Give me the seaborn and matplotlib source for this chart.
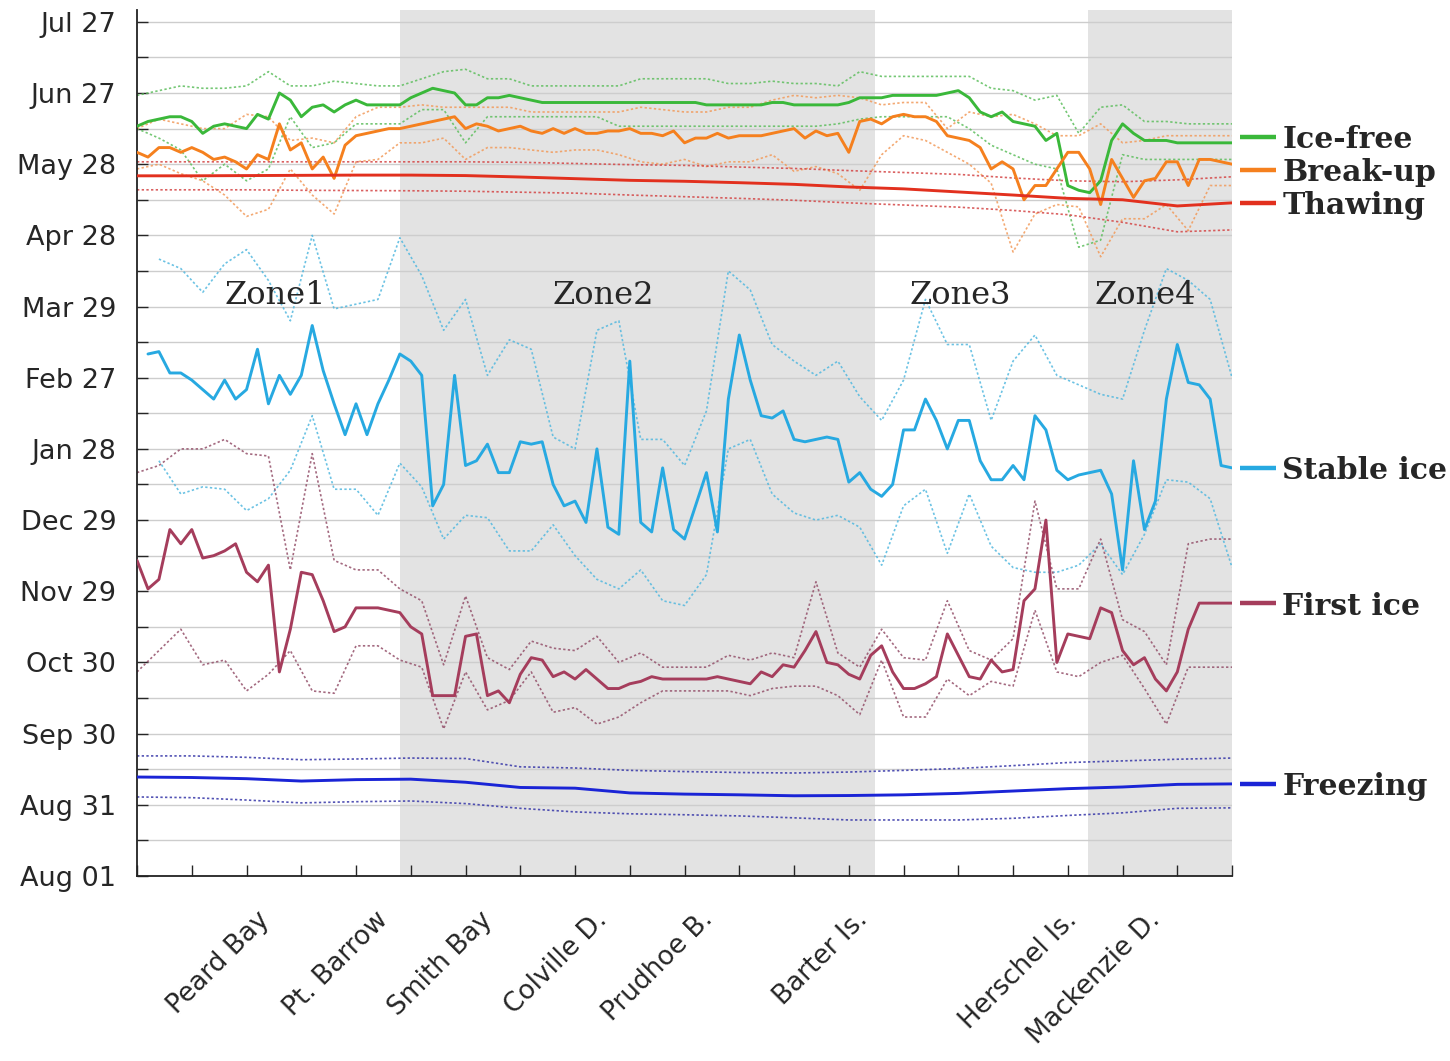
import numpy as np
import matplotlib
matplotlib.use("Agg")
import matplotlib.pyplot as plt
import matplotlib.transforms as mtransforms
import seaborn as sns

sns.set_style("ticks")
plt.rcParams['font.family'] = ['DejaVu Sans']

# site index along the coast (0 = west end, 200 = east end), three sampling steps
fine_x = np.arange(0, 201, 2)
mid_x = np.arange(0, 201, 4)
coarse_x = np.arange(0, 201, 10)
nan = np.nan

# all values are days since Aug 01
freezing = [41.7, 41.5, 41.0, 40.0, 40.6, 40.8, 39.5, 37.3, 37.0, 35.0, 34.5,
            34.2, 33.8, 33.9, 34.2, 34.8, 35.8, 36.8, 37.5, 38.6, 38.8]
freezing_hi = [50.6, 50.6, 50.0, 49.0, 49.3, 49.7, 49.5, 46.0, 45.5, 44.5, 44.0,
               43.6, 43.4, 43.8, 44.5, 45.3, 46.5, 47.8, 48.5, 49.2, 49.7]
freezing_lo = [33.3, 33.0, 32.0, 30.8, 31.3, 31.6, 30.5, 28.5, 27.0, 26.2, 25.8,
               25.3, 24.5, 23.6, 23.6, 23.6, 24.3, 25.5, 26.6, 28.5, 28.7]

thawing = [295.1, 295.1, 295.2, 295.3, 295.4, 295.4, 295.2, 294.6, 293.9, 293.2, 292.8,
           292.2, 291.5, 290.4, 289.6, 288.3, 287.0, 285.6, 285.0, 282.4, 283.7]
thawing_hi = [301.0, 301.0, 301.0, 301.0, 301.0, 301.0, 301.0, 300.8, 300.3, 299.8, 299.5,
              298.8, 298.2, 297.3, 296.5, 295.7, 294.2, 293.0, 292.6, 293.4, 294.7]
thawing_lo = [289.2, 289.2, 289.2, 289.0, 288.9, 288.8, 288.6, 288.2, 287.8, 287.0, 286.3,
              285.6, 284.8, 283.7, 282.8, 281.9, 280.5, 278.7, 275.5, 271.5, 272.3]

icefree = [316, 318, 319, 320, 320, 318, 313, 316, 317, 316,
           315, 321, 319, 330, 327, 320, 324, 325, 322, 325,
           327, 325, 325, 325, 325, 328, 330, 332, 331, 330,
           325, 325, 328, 328, 329, 328, 327, 326, 326, 326,
           326, 326, 326, 326, 326, 326, 326, 326, 326, 326,
           326, 326, 325, 325, 325, 325, 325, 325, 326, 326,
           325, 325, 325, 325, 325, 326, 328, 328, 328, 329,
           329, 329, 329, 329, 330, 331, 328, 322, 320, 322,
           318, 317, 316, 310, 313, 291, 289, 288, 293, 310,
           317, 313, 310, 310, 310, 309, 309, 309, 309, 309, 309]
icefree_hi = [329, 331, 333, 332, 332, 333, 339, 333, 333, 335,
              334, 333, 333, 336, 339, 340, 336, 336, 333, 333,
              333, 333, 333, 336, 336, 336, 336, 334, 334, 335,
              334, 334, 333, 339, 337, 337, 337, 337, 337, 332,
              331, 327, 329, 313, 324, 325, 318, 318, 317, 317, 317]
icefree_lo = [315, 311, 306, 293, 300, 293, 298, 320, 307, 309,
              317, 317, 317, 323, 323, 309, 320, 320, 320, 320,
              320, 320, 316, 316, 316, 316, 316, 316, 316, 316,
              316, 316, 317, 319, 320, 320, 320, 320, 315, 308,
              304, 300, 298, 265, 268, 304, 302, 302, 302, 302, 302]

breakup = [305, 303, 307, 307, 305, 307, 305, 302, 303, 301,
           298, 304, 302, 317, 306, 309, 298, 303, 294, 308,
           312, 313, 314, 315, 315, 316, 317, 318, 319, 320,
           315, 317, 316, 314, 315, 316, 314, 313, 315, 313,
           315, 313, 313, 314, 314, 315, 313, 313, 312, 314,
           309, 311, 311, 313, 311, 312, 312, 312, 313, 314,
           315, 311, 314, 312, 313, 305, 318, 319, 317, 320,
           321, 320, 320, 318, 312, 311, 310, 307, 298, 301,
           298, 285, 291, 291, 298, 305, 305, 298, 283, 302,
           294, 286, 293, 294, 301, 301, 291, 302, 302, 301, 300]
breakup_hi = [315, 319, 317, 315, 315, 321, 320, 310, 311, 309,
              320, 324, 324, 325, 324, 324, 324, 324, 322, 322,
              322, 322, 322, 324, 323, 322, 322, 324, 324, 327,
              329, 328, 329, 328, 325, 326, 326, 315, 322, 320,
              321, 317, 312, 312, 317, 309, 310, 312, 312, 312, 312]
breakup_lo = [298, 300, 296, 293, 287, 278, 281, 298, 287, 279,
              301, 302, 309, 309, 311, 302, 307, 307, 306, 305,
              306, 306, 304, 301, 300, 302, 299, 301, 301, 304,
              297, 299, 296, 289, 304, 312, 310, 305, 300, 292,
              263, 279, 283, 282, 261, 277, 277, 283, 272, 291, 291]

stable = [nan, 220, 221, 212, 212, 209, 205, 201, 209, 201,
          205, 222, 199, 211, 203, 211, 232, 213, 199, 186,
          199, 186, 199, 209, 220, 217, 211, 156, 165, 211,
          173, 175, 182, 170, 170, 183, 182, 183, 165, 156,
          158, 149, 180, 147, 144, 217, 149, 145, 172, 146,
          142, 156, 170, 145, 201, 228, 209, 194, 193, 196,
          184, 183, 184, 185, 184, 166, 170, 163, 160, 165,
          188, 188, 201, 192, 180, 192, 192, 175, 167, 167,
          173, 167, 194, 188, 171, 167, 169, 170, 171, 161,
          129, 175, 146, 158, 201, 224, 208, 207, 201, 173, 172]
stable_hi = [nan, 260, 256, 246, 258, 264, 251, 234, 270, 239,
             241, 243, 269, 253, 230, 243, 211, 226, 222, 185,
             180, 230, 234, 184, 184, 173, 196, 255, 247, 224,
             217, 211, 217, 202, 192, 209, 243, 224, 224, 192,
             217, 228, 211, 207, 203, 201, 230, 256, 251, 243, 210]
stable_lo = [nan, 175, 161, 164, 163, 154, 159, 171, 194, 163,
             163, 152, 174, 164, 142, 152, 151, 137, 137, 148,
             135, 125, 121, 129, 116, 114, 127, 180, 184, 161,
             153, 150, 152, 147, 131, 156, 163, 136, 161, 139,
             130, 128, 128, 131, 140, 127, 144, 167, 166, 159, 130]

firstice = [133, 121, 125, 146, 140, 146, 134, 135, 137, 140,
            128, 124, 131, 86, 104, 128, 127, 116, 103, 105,
            113, 113, 113, 112, 111, 105, 102, 76, 76, 76,
            101, 102, 76, 78, 73, 85, 92, 91, 84, 86,
            83, 87, 83, 79, 79, 81, 82, 84, 83, 83,
            83, 83, 83, 84, 83, 82, 81, 86, 84, 89,
            88, 95, 103, 90, 89, 85, 83, 93, 97, 86,
            79, 79, 81, 84, 102, 93, 84, 83, 91, 86,
            87, 116, 121, 150, 90, 102, 101, 100, 113, 111,
            95, 89, 92, 83, 78, 86, 104, 115, 115, 115, 115]
firstice_hi = [170, 173, 180, 180, 184, 178, 177, 129, 178, 133,
               129, 129, 121, 116, 89, 118, 92, 87, 99, 96,
               95, 101, 90, 94, 88, 88, 88, 93, 91, 94,
               92, 124, 94, 88, 104, 92, 91, 116, 95, 91,
               100, 158, 121, 121, 142, 108, 103, 89, 140, 142, 142]
firstice_lo = [86, 95, 104, 89, 91, 78, 85, 95, 78, 77,
               97, 97, 91, 88, 62, 86, 70, 74, 86, 69,
               71, 64, 67, 73, 78, 78, 78, 78, 76, 79,
               80, 80, 76, 68, 91, 67, 67, 83, 76, 82,
               80, 112, 86, 84, 90, 93, 79, 64, 88, 88, 88]

date_labels = ["Aug 01", "Aug 31", "Sep 30", "Oct 30", "Nov 29", "Dec 29", "Jan 28",
               "Feb 27", "Mar 29", "Apr 28", "May 28", "Jun 27", "Jul 27"]
site_names = ["Peard Bay", "Pt. Barrow", "Smith Bay", "Colville D.", "Prudhoe B.",
              "Barter Is.", "Herschel Is.", "Mackenzie D."]
site_pos = [25.2, 46.8, 65.8, 86.8, 106.1, 134.4, 172.6, 187.8]
zone_names = ["Zone1", "Zone2", "Zone3", "Zone4"]
zone_x = [25.2, 85.1, 150.3, 184.1]
shaded = [(48.0, 134.8), (173.7, 200.0)]

# name, x grid (median), median, x grid (bands), upper, lower, colour, band colour, label nudge
series = [
    ("Ice-free", fine_x, icefree, mid_x, icefree_hi, icefree_lo, "#3AB83A", "#5DBE5D", 2.5),
    ("Break-up", fine_x, breakup, mid_x, breakup_hi, breakup_lo, "#F5801E", "#F29A5A", -2.4),
    ("Thawing", coarse_x, thawing, coarse_x, thawing_hi, thawing_lo, "#E2301E", "#D44545", 0),
    ("Stable ice", fine_x, stable, mid_x, stable_hi, stable_lo, "#27A9E1", "#52B8DF", 0),
    ("First ice", fine_x, firstice, mid_x, firstice_hi, firstice_lo, "#A53D5C", "#94506A", 0),
    ("Freezing", coarse_x, freezing, coarse_x, freezing_hi, freezing_lo, "#1A24D6", "#3535A8", 0),
]

fig, ax = plt.subplots(figsize=(14.5, 10.61), dpi=100)
fig.subplots_adjust(left=0.0945, right=0.8497, bottom=0.1744, top=0.9906)

for x0, x1 in shaded:
    ax.axvspan(x0, x1, color="#E3E3E3", lw=0, zorder=0.2)

for name, xm, med, xb, hi, lo, col, bcol, nudge in series:
    for band in (hi, lo):
        sns.lineplot(x=xb, y=band, ax=ax, color=bcol, lw=1.2, linestyle=(0, (1.4, 1.4)),
                     alpha=0.85, estimator=None, sort=False, zorder=2)
    sns.lineplot(x=xm, y=med, ax=ax, color=col, lw=2.1, estimator=None, sort=False, zorder=3)

for name, zx in zip(zone_names, zone_x):
    ax.text(zx, 244.5, name, ha="center", va="center", fontsize=23, family="DejaVu Serif")

# labels on the right, at the last median value
trans = mtransforms.blended_transform_factory(ax.transAxes, ax.transData)
for name, xm, med, xb, hi, lo, col, bcol, nudge in series:
    yv = med[-1] + nudge
    ax.plot([1.007, 1.040], [yv, yv], transform=trans, color=col, lw=3.2,
            clip_on=False, solid_capstyle="butt")
    ax.text(1.046, yv, name, transform=trans, ha="left", va="center_baseline",
            fontsize=21.5, fontweight="bold", family="DejaVu Serif")

ax.set_xlim(0, 200)
ax.set_ylim(0, 365)
ax.set_yticks(np.arange(0, 361, 30))
ax.set_yticklabels(date_labels)
ax.set_yticks(np.arange(15, 360, 30), minor=True)
ax.yaxis.grid(True, which="both", color="#CDCDCD", lw=1)
ax.set_axisbelow(True)

ax.set_xticks(np.arange(0, 201, 10))
ax.set_xticklabels([])
ax.set_xticks(site_pos, minor=True)
ax.set_xticklabels(site_names, minor=True, rotation=45, ha="right")
ax.tick_params(axis="x", which="minor", length=0, pad=22, labelsize=19)
ax.tick_params(axis="x", which="major", direction="in", length=8, width=1)
ax.tick_params(axis="y", which="both", direction="in", length=8, width=1, labelsize=19.5, pad=15)
ax.set_xlabel("")
ax.set_ylabel("")

for s in ["top", "right"]:
    ax.spines[s].set_visible(False)
for s in ["left", "bottom"]:
    ax.spines[s].set_color("#222222")
    ax.spines[s].set_linewidth(1.3)

fig.savefig("out.png", dpi=100)
